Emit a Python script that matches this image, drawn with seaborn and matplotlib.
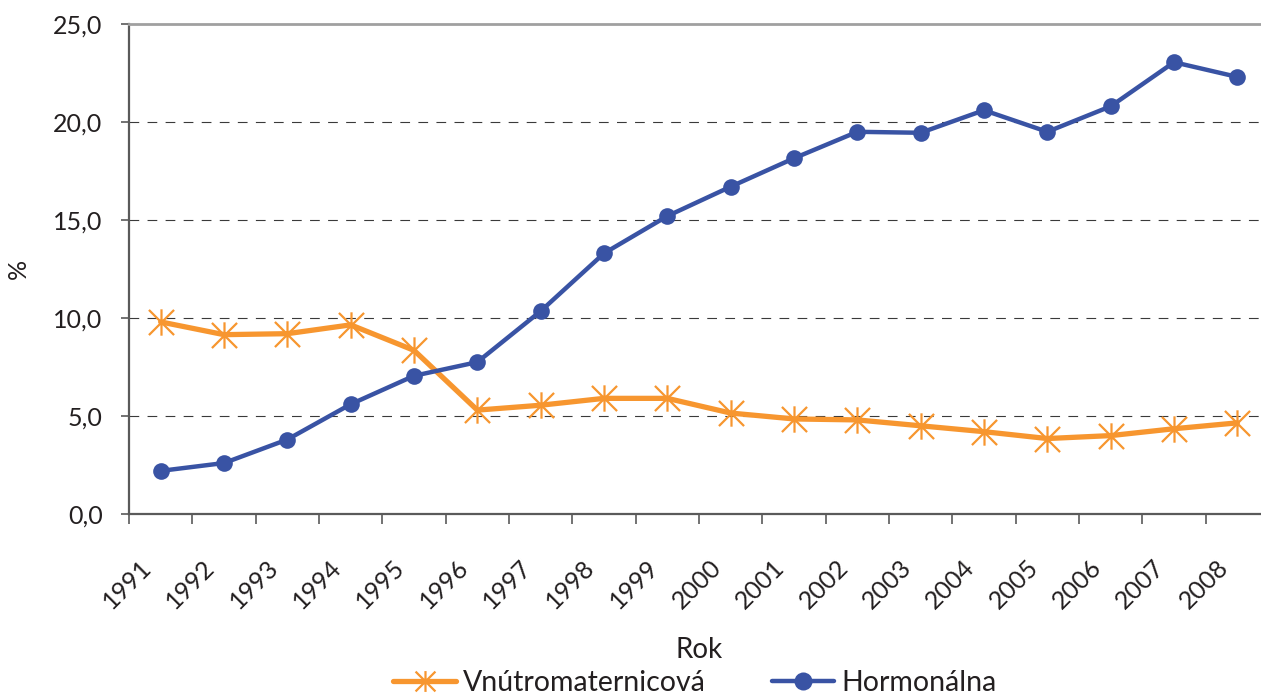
import numpy as np
import pandas as pd
import matplotlib
matplotlib.use('Agg')
import matplotlib.pyplot as plt
import matplotlib.transforms as mtransforms
from matplotlib.lines import Line2D
from matplotlib.path import Path
from matplotlib.ticker import FixedLocator, FuncFormatter
import seaborn as sns

# data (% of women using the method)
years = [str(y) for y in range(1991, 2009)]
vnutromaternicova = [9.8, 9.15, 9.2, 9.65, 8.35, 5.3, 5.55, 5.9, 5.9,
                     5.15, 4.85, 4.8, 4.5, 4.2, 3.85, 4.0, 4.35, 4.65]
hormonalna = [2.2, 2.6, 3.8, 5.6, 7.05, 7.75, 10.35, 13.3, 15.2,
              16.7, 18.15, 19.5, 19.45, 20.6, 19.5, 20.8, 23.05, 22.3]
series_names = ['Vnútromaternicová', 'Hormonálna']
y_ticks = [0, 5, 10, 15, 20, 25]

orange = '#F7962F'
blue = '#3953A4'
text_col = '#231F20'

sns.set_theme(style='white')
plt.rcParams['font.family'] = ['Lato', 'DejaVu Sans']
plt.rcParams['lines.scale_dashes'] = False

df = pd.DataFrame({'Rok': years * 2,
                   'value': vnutromaternicova + hormonalna,
                   'series': [series_names[0]] * len(years) + [series_names[1]] * len(years)})

# asterisk marker: X plus vertical bar
star = Path([(-1, -1), (1, 1), (-1, 1), (1, -1), (0, -1.05), (0, 1.05)],
            [Path.MOVETO, Path.LINETO, Path.MOVETO, Path.LINETO, Path.MOVETO, Path.LINETO])

fig = plt.figure(figsize=(12.61, 6.95), dpi=100)
ax = fig.add_axes([129 / 1261, 1 - 514 / 695, (1269 - 129) / 1261, (514 - 24) / 695])

d1 = df[df['series'] == series_names[0]]
d2 = df[df['series'] == series_names[1]]
sns.lineplot(data=d1, x='Rok', y='value', ax=ax, color=orange, lw=3.8,
             marker=star, ms=19, mew=1.6, mec=orange, mfc='none', legend=False)
sns.lineplot(data=d2, x='Rok', y='value', ax=ax, color=blue, lw=3.2,
             marker='o', ms=12, mec=blue, mfc=blue, mew=0, legend=False)

ax.set_xlim(-0.5, len(years) - 0.5)
ax.set_ylim(0, 25)
ax.set_yticks(y_ticks)
ax.yaxis.set_major_formatter(FuncFormatter(lambda v, p: f'{v:.1f}'.replace('.', ',')))

# gridlines (dashed) for inner values only
for v in y_ticks[1:-1]:
    ax.axhline(v, color='#3a3a3a', lw=0.8, dashes=(7, 6), zorder=0)

# spines
for s in ['left', 'bottom']:
    ax.spines[s].set_color('#5a5a5a')
    ax.spines[s].set_linewidth(1.6)
ax.spines['top'].set_color('#a0a0a0')
ax.spines['top'].set_linewidth(2)
ax.spines['right'].set_visible(False)

# ticks: marks at category boundaries, labels at centres
ax.xaxis.set_minor_locator(FixedLocator(np.arange(-0.5, len(years) - 0.5, 1)))
ax.tick_params(axis='x', which='minor', bottom=True, length=7, width=1.2, color='#5a5a5a')
ax.tick_params(axis='x', which='major', bottom=True, length=0, pad=36,
               labelsize=18, labelcolor=text_col)
ax.tick_params(axis='y', left=True, length=6, width=1.2, color='#5a5a5a',
               pad=13, labelsize=18, labelcolor=text_col)

offset = mtransforms.ScaledTranslation(-0.13, 0, fig.dpi_scale_trans)
for lab in ax.get_xticklabels():
    lab.set_rotation(45)
    lab.set_ha('right')
    lab.set_va('center')
    lab.set_rotation_mode('anchor')
    lab.set_transform(lab.get_transform() + offset)

ax.set_xlabel('Rok', fontsize=20, color=text_col, labelpad=17)
ax.set_ylabel('%', fontsize=18, color=text_col)
ax.yaxis.set_label_coords(-0.087, 0.5)

handles = [Line2D([], [], color=orange, lw=3.8, marker=star, ms=15, mew=1.6, mfc='none'),
           Line2D([], [], color=blue, lw=3.2, marker='o', ms=13, mew=0)]
fig.legend(handles=handles, labels=series_names, loc='center',
           bbox_to_anchor=(695 / 1261, 1 - 683 / 695), ncol=2, frameon=False,
           fontsize=20.5, handlelength=2.2, handletextpad=0.25, columnspacing=2.3,
           labelcolor=text_col)

fig.savefig('out.png', dpi=100)
